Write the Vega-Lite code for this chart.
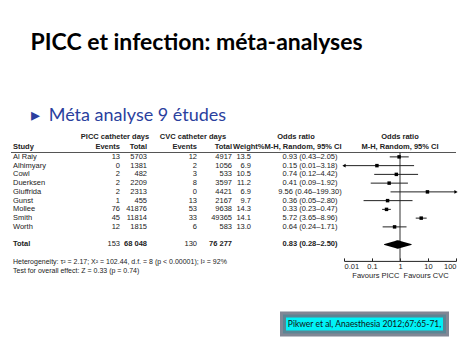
{
  "$schema": "https://vega.github.io/schema/vega-lite/v6.json",
  "padding": {"left": 10, "top": 31, "right": 0, "bottom": 0},
  "background": "white",
  "title": {
    "text": "PICC et infection: méta-analyses",
    "subtitle": "\u00a0▸\u00a0\u00a0Méta analyse 9 études",
    "anchor": "start",
    "dx": 20,
    "font": "Lato",
    "fontSize": 23,
    "fontWeight": "bold",
    "color": "#000000",
    "subtitleFont": "Lato",
    "subtitleFontSize": 18,
    "subtitleColor": "#2B3F9E",
    "subtitlePadding": 52,
    "offset": 8
  },
  "datasets": {
    "studies": [
      {"study": "Al Raiy", "pe": 13, "pt": 5703, "ce": 12, "ct": 4917, "w": 13.5, "or": 0.93, "lo": 0.43, "hi": 2.05, "ci": "0.93 (0.43–2.05)"},
      {"study": "Alhimyary", "pe": 0, "pt": 1381, "ce": 2, "ct": 1056, "w": 6.9, "or": 0.15, "lo": 0.01, "hi": 3.18, "ci": "0.15 (0.01–3.18)"},
      {"study": "Cowl", "pe": 2, "pt": 482, "ce": 3, "ct": 533, "w": 10.5, "or": 0.74, "lo": 0.12, "hi": 4.42, "ci": "0.74 (0.12–4.42)"},
      {"study": "Duerksen", "pe": 2, "pt": 2209, "ce": 8, "ct": 3597, "w": 11.2, "or": 0.41, "lo": 0.09, "hi": 1.92, "ci": "0.41 (0.09–1.92)"},
      {"study": "Giuffrida", "pe": 2, "pt": 2313, "ce": 0, "ct": 4421, "w": 6.9, "or": 9.56, "lo": 0.46, "hi": 199.3, "ci": "9.56 (0.46–199.30)"},
      {"study": "Gunst", "pe": 1, "pt": 455, "ce": 13, "ct": 2167, "w": 9.7, "or": 0.36, "lo": 0.05, "hi": 2.8, "ci": "0.36 (0.05–2.80)"},
      {"study": "Mollee", "pe": 76, "pt": 41876, "ce": 53, "ct": 9638, "w": 14.3, "or": 0.33, "lo": 0.23, "hi": 0.47, "ci": "0.33 (0.23–0.47)"},
      {"study": "Smith", "pe": 45, "pt": 11814, "ce": 33, "ct": 49365, "w": 14.1, "or": 5.72, "lo": 3.65, "hi": 8.96, "ci": "5.72 (3.65–8.96)"},
      {"study": "Worth", "pe": 12, "pt": 1815, "ce": 6, "ct": 583, "w": 13.0, "or": 0.64, "lo": 0.24, "hi": 1.71, "ci": "0.64 (0.24–1.71)"}
    ],
    "total": [
      {"study": "Total", "pe": 153, "pt": 68048, "ce": 130, "ct": 76277, "or": 0.83, "lo": 0.28, "hi": 2.5, "ci": "0.83 (0.28–2.50)"}
    ],
    "diamond": [
      {"study": "Total", "v": 0.28, "w": 0},
      {"study": "Total", "v": 0.83, "w": 1},
      {"study": "Total", "v": 2.5, "w": 0}
    ],
    "stats": [
      {"row": "Het", "label": "Heterogeneity: τ² = 2.17; Χ² = 102.44, d.f. = 8 (p < 0.00001); I² = 92%"},
      {"row": "Test", "label": "Test for overall effect: Z = 0.33 (p = 0.74)"}
    ]
  },
  "spacing": 32.5,
  "vconcat": [
    {
      "bounds": "flush",
      "spacing": 0,
      "hconcat": [
        {
          "width": 333,
          "height": 140,
          "layer": [
            {
              "data": {"name": "studies"},
              "mark": {"type": "text", "align": "left"},
              "encoding": {
                "y": {"field": "study", "type": "nominal", "axis": null,
                  "scale": {"type": "band", "paddingInner": 0, "paddingOuter": 0,
                    "domain": ["hdr1", "hdr2", "Al Raiy", "Alhimyary", "Cowl", "Duerksen", "Giuffrida", "Gunst", "Mollee", "Smith", "Worth", "gap1", "Total", "gap2", "Het", "Test"]}},
                "x": {"datum": 2, "type": "quantitative", "axis": null, "scale": {"domain": [0, 333], "nice": false, "zero": false}},
                "text": {"field": "study"}
              }
            },
            {
              "data": {"name": "studies"},
              "mark": {"type": "text", "align": "right"},
              "encoding": {
                "y": {"field": "study", "type": "nominal"},
                "x": {"datum": 109, "type": "quantitative"},
                "text": {"field": "pe", "type": "quantitative", "format": "d"}
              }
            },
            {
              "data": {"name": "studies"},
              "mark": {"type": "text", "align": "right"},
              "encoding": {
                "y": {"field": "study", "type": "nominal"},
                "x": {"datum": 136, "type": "quantitative"},
                "text": {"field": "pt", "type": "quantitative", "format": "d"}
              }
            },
            {
              "data": {"name": "studies"},
              "mark": {"type": "text", "align": "right"},
              "encoding": {
                "y": {"field": "study", "type": "nominal"},
                "x": {"datum": 186, "type": "quantitative"},
                "text": {"field": "ce", "type": "quantitative", "format": "d"}
              }
            },
            {
              "data": {"name": "studies"},
              "mark": {"type": "text", "align": "right"},
              "encoding": {
                "y": {"field": "study", "type": "nominal"},
                "x": {"datum": 221, "type": "quantitative"},
                "text": {"field": "ct", "type": "quantitative", "format": "d"}
              }
            },
            {
              "data": {"name": "studies"},
              "mark": {"type": "text", "align": "right"},
              "encoding": {
                "y": {"field": "study", "type": "nominal"},
                "x": {"datum": 240, "type": "quantitative"},
                "text": {"field": "w", "type": "quantitative", "format": ".1f"}
              }
            },
            {
              "data": {"name": "studies"},
              "mark": {"type": "text", "align": "center"},
              "encoding": {
                "y": {"field": "study", "type": "nominal"},
                "x": {"datum": 299, "type": "quantitative"},
                "text": {"field": "ci"}
              }
            },
            {
              "data": {"name": "total"},
              "mark": {"type": "text", "align": "left", "fontWeight": "bold"},
              "encoding": {
                "y": {"field": "study", "type": "nominal"},
                "x": {"datum": 2, "type": "quantitative"},
                "text": {"field": "study"}
              }
            },
            {
              "data": {"name": "total"},
              "mark": {"type": "text", "align": "right"},
              "encoding": {
                "y": {"field": "study", "type": "nominal"},
                "x": {"datum": 109, "type": "quantitative"},
                "text": {"field": "pe", "type": "quantitative", "format": "d"}
              }
            },
            {
              "data": {"name": "total"},
              "mark": {"type": "text", "align": "right", "fontWeight": "bold"},
              "encoding": {
                "y": {"field": "study", "type": "nominal"},
                "x": {"datum": 136, "type": "quantitative"},
                "text": {"field": "pt", "type": "quantitative", "format": ",d"}
              }
            },
            {
              "data": {"name": "total"},
              "mark": {"type": "text", "align": "right"},
              "encoding": {
                "y": {"field": "study", "type": "nominal"},
                "x": {"datum": 186, "type": "quantitative"},
                "text": {"field": "ce", "type": "quantitative", "format": "d"}
              }
            },
            {
              "data": {"name": "total"},
              "mark": {"type": "text", "align": "right", "fontWeight": "bold"},
              "encoding": {
                "y": {"field": "study", "type": "nominal"},
                "x": {"datum": 221, "type": "quantitative"},
                "text": {"field": "ct", "type": "quantitative", "format": ",d"}
              }
            },
            {
              "data": {"name": "total"},
              "mark": {"type": "text", "align": "center", "fontWeight": "bold"},
              "encoding": {
                "y": {"field": "study", "type": "nominal"},
                "x": {"datum": 299, "type": "quantitative"},
                "text": {"field": "ci"}
              }
            },
            {
              "data": {"name": "stats"},
              "mark": {"type": "text", "align": "left", "fontSize": 7},
              "encoding": {
                "y": {"field": "row", "type": "nominal"},
                "x": {"datum": 2, "type": "quantitative"},
                "text": {"field": "label"}
              }
            },
            {
              "data": {"values": [{"label": "PICC catheter days"}]},
              "mark": {"type": "text", "align": "center", "fontWeight": "bold", "dy": -2.5},
              "encoding": {
                "y": {"datum": "hdr1"},
                "x": {"datum": 104, "type": "quantitative"},
                "text": {"field": "label"}
              }
            },
            {
              "data": {"values": [{"label": "CVC catheter days"}]},
              "mark": {"type": "text", "align": "center", "fontWeight": "bold", "dy": -2.5},
              "encoding": {
                "y": {"datum": "hdr1"},
                "x": {"datum": 182, "type": "quantitative"},
                "text": {"field": "label"}
              }
            },
            {
              "data": {"values": [{"label": "Odds ratio"}]},
              "mark": {"type": "text", "align": "center", "fontWeight": "bold", "dy": -2.5},
              "encoding": {
                "y": {"datum": "hdr1"},
                "x": {"datum": 285, "type": "quantitative"},
                "text": {"field": "label"}
              }
            },
            {
              "data": {"values": [{"label": "Study"}]},
              "mark": {"type": "text", "align": "left", "fontWeight": "bold", "dy": -1},
              "encoding": {
                "y": {"datum": "hdr2"},
                "x": {"datum": 2, "type": "quantitative"},
                "text": {"field": "label"}
              }
            },
            {
              "data": {"values": [{"label": "Events"}]},
              "mark": {"type": "text", "align": "right", "fontWeight": "bold", "dy": -1},
              "encoding": {
                "y": {"datum": "hdr2"},
                "x": {"datum": 109, "type": "quantitative"},
                "text": {"field": "label"}
              }
            },
            {
              "data": {"values": [{"label": "Total"}]},
              "mark": {"type": "text", "align": "right", "fontWeight": "bold", "dy": -1},
              "encoding": {
                "y": {"datum": "hdr2"},
                "x": {"datum": 136, "type": "quantitative"},
                "text": {"field": "label"}
              }
            },
            {
              "data": {"values": [{"label": "Events"}]},
              "mark": {"type": "text", "align": "right", "fontWeight": "bold", "dy": -1},
              "encoding": {
                "y": {"datum": "hdr2"},
                "x": {"datum": 186, "type": "quantitative"},
                "text": {"field": "label"}
              }
            },
            {
              "data": {"values": [{"label": "Total"}]},
              "mark": {"type": "text", "align": "right", "fontWeight": "bold", "dy": -1},
              "encoding": {
                "y": {"datum": "hdr2"},
                "x": {"datum": 221, "type": "quantitative"},
                "text": {"field": "label"}
              }
            },
            {
              "data": {"values": [{"label": "Weight%M-H, Random, 95% CI"}]},
              "mark": {"type": "text", "align": "left", "fontWeight": "bold", "dy": -1},
              "encoding": {
                "y": {"datum": "hdr2"},
                "x": {"datum": 222, "type": "quantitative"},
                "text": {"field": "label"}
              }
            },
            {
              "data": {"values": [{}]},
              "mark": {"type": "rule", "color": "#555555", "strokeWidth": 1},
              "encoding": {
                "y": {"datum": "Al Raiy", "bandPosition": 0}
              }
            }
          ]
        },
        {
          "width": 112,
          "height": 125.9,
          "layer": [
            {
              "data": {"values": [{}]},
              "mark": {"type": "rule", "color": "#555555", "strokeWidth": 1},
              "encoding": {
                "y": {"datum": "Al Raiy", "bandPosition": 0, "axis": null,
                  "scale": {"type": "band", "paddingInner": 0, "paddingOuter": 0.194, "align": 0,
                    "domain": ["hdr1", "hdr2", "Al Raiy", "Alhimyary", "Cowl", "Duerksen", "Giuffrida", "Gunst", "Mollee", "Smith", "Worth", "gap1", "Total", "gap2"]}}
              }
            },
            {
              "data": {"values": [{"label": "Odds ratio"}]},
              "mark": {"type": "text", "align": "center", "fontWeight": "bold", "dy": -2.5},
              "encoding": {
                "y": {"datum": "hdr1"},
                "x": {"datum": 1, "type": "quantitative"},
                "text": {"field": "label"}
              }
            },
            {
              "data": {"values": [{"label": "M-H, Random, 95% CI"}]},
              "mark": {"type": "text", "align": "center", "fontWeight": "bold", "dy": -1},
              "encoding": {
                "y": {"datum": "hdr2"},
                "x": {"datum": 1, "type": "quantitative"},
                "text": {"field": "label"}
              }
            },
            {
              "data": {"values": [{}]},
              "mark": {"type": "rule", "color": "#333333", "strokeWidth": 1},
              "encoding": {
                "x": {"datum": 1, "type": "quantitative"},
                "y": {"datum": "Al Raiy", "bandPosition": 0},
                "y2": {"value": "height"}
              }
            },
            {
              "data": {"name": "studies"},
              "mark": {"type": "rule", "color": "#222222", "strokeWidth": 1},
              "encoding": {
                "y": {"field": "study", "type": "nominal"},
                "x": {"field": "lo", "type": "quantitative",
                  "scale": {"type": "log", "domain": [0.01, 100], "nice": false, "clamp": true},
                  "axis": {"values": [0.01, 0.1, 1, 10, 100], "format": "~g", "title": "Favours PICC\u00a0\u00a0Favours CVC"}},
                "x2": {"field": "hi"}
              }
            },
            {
              "data": {"name": "studies"},
              "mark": {"type": "point", "shape": "square", "filled": true, "color": "#000000", "size": 12, "opacity": 1},
              "encoding": {
                "y": {"field": "study", "type": "nominal"},
                "x": {"field": "or", "type": "quantitative"}
              }
            },
            {
              "data": {"name": "studies"},
              "transform": [{"filter": "datum.hi > 100"}],
              "mark": {"type": "point", "shape": "triangle-right", "filled": true, "color": "#000000", "size": 14, "opacity": 1},
              "encoding": {
                "y": {"field": "study", "type": "nominal"},
                "x": {"field": "hi", "type": "quantitative"}
              }
            },
            {
              "data": {"name": "studies"},
              "transform": [{"filter": "datum.lo <= 0.01"}],
              "mark": {"type": "point", "shape": "triangle-left", "filled": true, "color": "#000000", "size": 14, "opacity": 1},
              "encoding": {
                "y": {"field": "study", "type": "nominal"},
                "x": {"field": "lo", "type": "quantitative"}
              }
            },
            {
              "data": {"name": "diamond"},
              "mark": {"type": "trail", "color": "#000000"},
              "encoding": {
                "y": {"field": "study", "type": "nominal"},
                "x": {"field": "v", "type": "quantitative"},
                "size": {"field": "w", "type": "quantitative", "legend": null, "scale": {"domain": [0, 1], "range": [0, 8.5]}}
              }
            }
          ]
        }
      ]
    },
    {
      "bounds": "flush",
      "spacing": 0,
      "hconcat": [
        {
          "width": 272,
          "height": 19,
          "data": {"values": []},
          "mark": "rect",
          "encoding": {}
        },
        {
          "width": 163,
          "height": 19,
          "view": {"fill": "#00F2F7", "stroke": "#6B7282", "strokeWidth": 6, "strokeOpacity": 0.85},
          "data": {"values": [{"ref": "Pikwer et al, Anaesthesia 2012;67:65-71,"}]},
          "mark": {"type": "text", "font": "Lato", "fontSize": 8.5, "color": "#111111"},
          "encoding": {"text": {"field": "ref"}}
        }
      ]
    }
  ],
  "config": {
    "view": {"stroke": null},
    "locale": {"number": {"decimal": ".", "thousands": " ", "grouping": [3], "currency": ["", ""]}},
    "text": {"font": "Liberation Sans", "fontSize": 7.5, "color": "#222222"},
    "axis": {
      "domainColor": "#222222", "tickColor": "#222222", "tickSize": -3, "labelPadding": 5,
      "labelFont": "Liberation Sans", "labelFontSize": 7.5, "labelColor": "#222222", "labelFlush": true,
      "titleFont": "Liberation Sans", "titleFontSize": 7.5, "titleFontWeight": "normal", "titleColor": "#222222", "titlePadding": 1, "grid": false
    }
  }
}
